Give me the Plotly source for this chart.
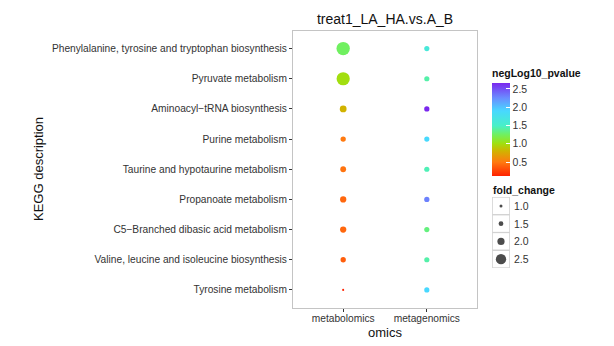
import plotly.graph_objects as go

W, H = 614, 346

pathways = [
    "Phenylalanine, tyrosine and tryptophan biosynthesis",
    "Pyruvate metabolism",
    "Aminoacyl\u2212tRNA biosynthesis",
    "Purine metabolism",
    "Taurine and hypotaurine metabolism",
    "Propanoate metabolism",
    "C5\u2212Branched dibasic acid metabolism",
    "Valine, leucine and isoleucine biosynthesis",
    "Tyrosine metabolism",
]
omics = ["metabolomics", "metagenomics"]

metab_pval = [1.25, 1.00, 0.80, 0.50, 0.47, 0.42, 0.42, 0.38, 0.12]
metab_fc = [2.90, 2.88, 1.93, 1.63, 1.73, 1.83, 1.83, 1.63, 0.60]
metag_pval = [1.62, 1.42, 2.66, 1.88, 1.45, 2.30, 1.32, 1.42, 1.90]
metag_fc = [1.60, 1.60, 1.62, 1.60, 1.60, 1.62, 1.60, 1.60, 1.60]

legend_fc = [1.0, 1.5, 2.0, 2.5]
cbar_ticks = [0.5, 1.0, 1.5, 2.0, 2.5]


def size_px(v):
    return 1.4 * v * v + 1.6


colorscale = [
    [0.0, "#FF2200"],
    [0.15, "#FF7A10"],
    [0.27, "#D0B400"],
    [0.35, "#A0E010"],
    [0.445, "#70F060"],
    [0.54, "#48F0C8"],
    [0.70, "#48D8FF"],
    [0.84, "#6A8CFF"],
    [1.0, "#7A28EE"],
]

xs = [omics[0]] * len(pathways) + [omics[1]] * len(pathways)
ys = pathways + pathways
cvals = metab_pval + metag_pval
svals = [size_px(v) for v in metab_fc + metag_fc]
cmin, cmax = min(cvals), max(cvals)

font_family = "Liberation Sans, Arial, sans-serif"

fig = go.Figure()
fig.add_trace(go.Scatter(
    x=xs, y=ys, mode="markers",
    marker=dict(
        size=svals, sizemode="diameter", color=cvals,
        colorscale=colorscale, cmin=cmin, cmax=cmax,
        line=dict(width=0), opacity=1,
        colorbar=dict(
            title=dict(text="<b>negLog10_pvalue</b>", side="top",
                       font=dict(size=10.5, color="#111", family=font_family)),
            x=492 / W, xanchor="left", xref="paper",
            y=1 - 66 / H, yanchor="top", yref="paper",
            lenmode="pixels", len=110, thickness=18,
            outlinewidth=0, tickvals=cbar_ticks,
            ticktext=[f"{t:.1f}" for t in cbar_ticks],
            ticks="inside", ticklen=4, tickcolor="white",
            tickfont=dict(size=10.5, color="#333", family=font_family),
            xpad=0, ypad=0,
        ),
    ),
    showlegend=False, hoverinfo="x+y",
))

# size legend keys
fig.add_trace(go.Scatter(
    x=[0] * len(legend_fc), y=list(range(len(legend_fc))), mode="markers",
    marker=dict(symbol="square", size=17.5, color="white",
                line=dict(color="#cfcfcf", width=1)),
    xaxis="x2", yaxis="y2", showlegend=False, hoverinfo="skip",
))
fig.add_trace(go.Scatter(
    x=[0] * len(legend_fc), y=list(range(len(legend_fc))), mode="markers",
    marker=dict(size=[size_px(v) for v in legend_fc], color="black",
                sizemode="diameter", line=dict(width=0)),
    xaxis="x2", yaxis="y2", showlegend=False, hoverinfo="skip",
))

leg_top, leg_bot = 197, 268
step = (leg_bot - leg_top) / len(legend_fc)
annotations = [
    dict(text="<b>fold_change</b>", x=491 / W, y=1 - 190 / H,
         xref="paper", yref="paper", xanchor="left", yanchor="middle",
         showarrow=False, font=dict(size=10.5, color="#111", family=font_family)),
    dict(text="omics", x=385 / W, y=1 - 332 / H, xref="paper", yref="paper",
         xanchor="center", yanchor="middle", showarrow=False,
         font=dict(size=13, color="#111", family=font_family)),
    dict(text="KEGG description", x=38 / W, y=1 - 169 / H, xref="paper",
         yref="paper", xanchor="center", yanchor="middle", textangle=-90,
         showarrow=False, font=dict(size=13, color="#111", family=font_family)),
]
for i, v in enumerate(legend_fc):
    annotations.append(dict(
        text=f"{v:.1f}", x=512 / W, y=1 - (leg_top + step * (i + 0.5)) / H,
        xref="paper", yref="paper",
        xanchor="left", yanchor="middle", showarrow=False,
        font=dict(size=10.5, color="#333", family=font_family),
    ))

fig.update_layout(
    width=W, height=H,
    margin=dict(l=0, r=0, t=0, b=0),
    paper_bgcolor="white", plot_bgcolor="white",
    font=dict(family=font_family, color="#333"),
    title=dict(text="treat1_LA_HA.vs.A_B", x=385 / W, xanchor="center",
               y=1 - 19 / H, yanchor="middle", xref="paper", yref="paper",
               font=dict(size=14, color="#111", family=font_family)),
    xaxis=dict(
        domain=[293 / W, 477 / W], type="category", categoryarray=omics,
        range=[-0.6, 1.6], showgrid=False, zeroline=False,
        showline=True, mirror=True, linecolor="#c4c4c4", linewidth=1,
        ticks="outside", ticklen=3, tickcolor="#333",
        ticklabelstandoff=-2,
        tickfont=dict(size=10.2, color="#333"),
        automargin=False, fixedrange=True,
    ),
    yaxis=dict(
        domain=[1 - 308 / H, 1 - 30.5 / H], type="category",
        categoryarray=pathways[::-1],
        range=[-0.6, len(pathways) - 0.4], showgrid=False, zeroline=False,
        showline=True, mirror=True, linecolor="#c4c4c4", linewidth=1,
        ticks="outside", ticklen=3, tickcolor="#333",
        tickfont=dict(size=10.2, color="#333"),
        automargin=False, fixedrange=True,
    ),
    xaxis2=dict(domain=[492 / W, 510 / W], range=[-0.5, 0.5], visible=False,
                anchor="y2", fixedrange=True),
    yaxis2=dict(domain=[1 - leg_bot / H, 1 - leg_top / H], range=[3.5, -0.5],
                visible=False, anchor="x2", fixedrange=True),
    annotations=annotations,
)

fig.write_html("out.html")
